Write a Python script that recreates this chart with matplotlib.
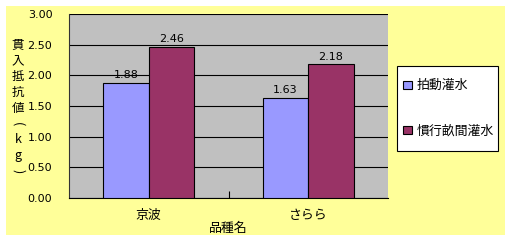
import matplotlib
matplotlib.use("Agg")
import matplotlib.pyplot as plt
import numpy as np
from matplotlib.patches import Rectangle

plt.rcParams["font.family"] = ["Noto Sans CJK JP", "DejaVu Sans"]

# data
varieties = ["京波", "さらら"]
series_names = ["拍動灌水", "慣行畝間灌水"]
pulse_values = [1.88, 1.63]
conventional_values = [2.46, 2.18]
y_ticks = [0.0, 0.5, 1.0, 1.5, 2.0, 2.5, 3.0]
y_label_chars = ["貫", "入", "抵", "抗", "値", "(", "k", "g", ")"]

W, H = 511, 241
CJK = 9.3
NUM = {"family": "DejaVu Sans", "size": 8}

fig = plt.figure(figsize=(W / 100, H / 100), dpi=100)
fig.patch.set_facecolor("white")


def fig_rect(x0, y0, x1, y1, **kw):
    """Rectangle in pixel coords (top-left origin) on the figure."""
    r = Rectangle((x0 / W, 1 - y1 / H), (x1 - x0) / W, (y1 - y0) / H,
                  transform=fig.transFigure, **kw)
    fig.patches.append(r)
    return r


# yellow chart area
fig_rect(6, 6, 505, 235, facecolor="#FFFF99", edgecolor="none", zorder=-5)

ax = fig.add_axes([69 / W, 1 - 198 / H, (388 - 69) / W, (198 - 14) / H])
ax.set_facecolor("#C0C0C0")

x = np.arange(len(varieties))
bw = 1 / 3.5
b1 = ax.bar(x - bw / 2, pulse_values, bw, color="#9999FF", edgecolor="black",
            linewidth=0.8, label=series_names[0], zorder=3)
b2 = ax.bar(x + bw / 2, conventional_values, bw, color="#993366", edgecolor="black",
            linewidth=0.8, label=series_names[1], zorder=3)
for bars in (b1, b2):
    ax.bar_label(bars, fmt="%.2f", padding=2, fontfamily=NUM["family"],
                 fontsize=NUM["size"])

ax.set_xlim(-0.5, len(varieties) - 0.5)
ax.set_ylim(0, 3.0)
ax.set_yticks(y_ticks)
ax.set_yticklabels([f"{v:.2f}" for v in y_ticks], fontfamily=NUM["family"],
                   fontsize=NUM["size"])
ax.yaxis.grid(True, color="black", linewidth=0.8)
ax.set_axisbelow(True)
ax.tick_params(axis="y", length=0, pad=12)

ax.set_xticks(x)
ax.set_xticklabels(varieties, fontsize=CJK)
ax.set_xticks([0.5], minor=True)
ax.tick_params(axis="x", which="major", length=0, pad=8)
ax.tick_params(axis="x", which="minor", direction="in", length=5, width=0.8)

for side in ("top", "right"):
    ax.spines[side].set_visible(False)
ax.spines["left"].set_color("#333333")
ax.spines["bottom"].set_color("black")

# vertical y-axis title, one character per line (brackets turned sideways)
y0, step = 45, 15.8
for i, ch in enumerate(y_label_chars):
    rot = -90 if ch in "()" else 0
    fig.text(18 / W, 1 - (y0 + i * step) / H, ch, fontsize=9,
             ha="center", va="center", rotation=rot)

fig.text(228 / W, 1 - 228 / H, "品種名", fontsize=CJK, ha="center", va="center")

# legend box
fig_rect(397, 66, 498, 151, facecolor="white", edgecolor="black",
         linewidth=0.8, zorder=4)
leg = fig.legend(handles=[b1, b2], loc="center left",
                 bbox_to_anchor=(398 / W, 1 - 151 / H, 100 / W, 85 / H),
                 fontsize=CJK, frameon=False,
                 handlelength=0.65, handleheight=0.65, handletextpad=0.4,
                 labelspacing=2.5, borderpad=0.4, borderaxespad=0)
leg.set_zorder(5)

fig.savefig("out.png", dpi=100)
